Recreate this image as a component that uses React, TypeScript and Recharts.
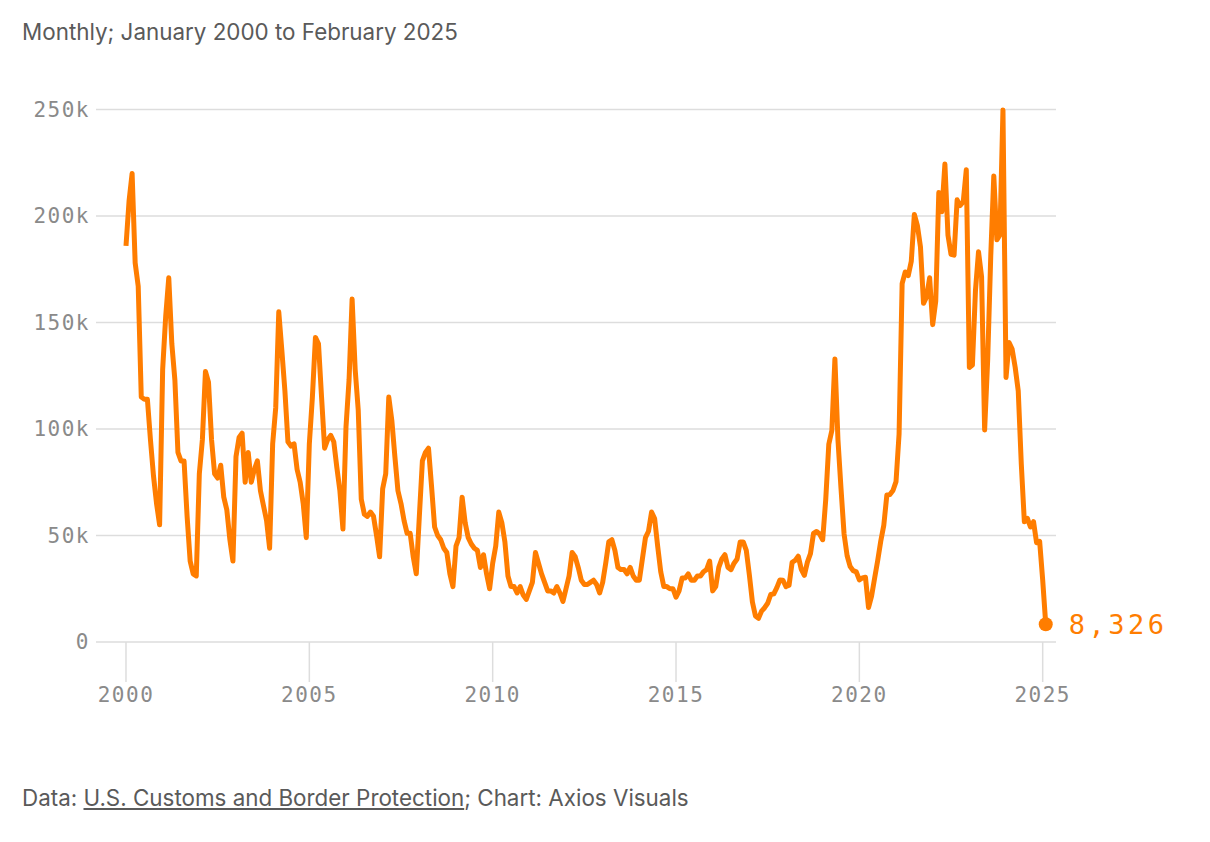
import { CartesianGrid, Line, LineChart, XAxis, YAxis } from "recharts";

// U.S. Border Patrol southwest border apprehensions, monthly, Jan 2000 – Feb 2025
const START_YEAR = 2000;

const apprehensions2000to2004 = [
  186000, 207000, 220000, 178000, 167000, 115000, 114000, 114000, 95000, 78000, 65000, 55000,
  128000, 153000, 171000, 140000, 123000, 89000, 85000, 85000, 59000, 38000, 32000, 31000,
  79000, 95000, 127000, 122000, 95000, 79000, 77000, 83000, 68000, 62000, 48000, 38000,
  87000, 96000, 98000, 75000, 89000, 75000, 81000, 85000, 71000, 64000, 57000, 44000,
  93000, 110000, 155000, 137000, 118000, 94000, 92000, 93000, 81000, 75000, 65000, 49000,
];

const apprehensions2005to2009 = [
  93000, 115000, 143000, 140000, 115000, 91000, 95000, 97000, 94000, 82000, 71000, 53000,
  101000, 123000, 161000, 128000, 109000, 67000, 60000, 59000, 61000, 59000, 50000, 40000,
  72000, 79000, 115000, 104000, 87000, 71000, 65000, 57000, 51000, 51000, 40000, 32000,
  59000, 85000, 89000, 91000, 73000, 54000, 50000, 48000, 44000, 42000, 32000, 26000,
  45000, 49000, 68000, 56000, 49000, 46000, 44000, 43000, 35000, 41000, 32000, 25000,
];

const apprehensions2010to2014 = [
  37000, 45000, 61000, 56000, 47000, 31000, 26000, 26000, 23000, 26000, 22000, 20000,
  24000, 28000, 42000, 37000, 32000, 28000, 24000, 24000, 23000, 26000, 23000, 19000,
  25000, 31000, 42000, 40000, 35000, 29000, 27000, 27000, 28000, 29000, 27000, 23000,
  28000, 37000, 47000, 48000, 43000, 35000, 34000, 34000, 32000, 35000, 31000, 29000,
  29000, 39000, 49000, 52000, 61000, 58000, 45000, 33000, 26000, 26000, 25000, 25000,
];

const apprehensions2015to2019 = [
  21000, 24000, 30000, 30000, 32000, 29000, 29000, 31000, 31000, 33000, 34000, 38000,
  24000, 26000, 35000, 39000, 41000, 35000, 34000, 37000, 39000, 47000, 47000, 43000,
  31600, 18800, 12200, 11100, 14500, 16100, 18200, 22300, 22600, 25500, 29100, 29000,
  26000, 26700, 37400, 38300, 40300, 34100, 31300, 37500, 41500, 51000, 51900, 50700,
  48000, 66900, 92800, 99300, 132900, 94900, 72000, 50700, 40500, 35400, 33500, 32900,
];

const apprehensions2020to2025 = [
  29200, 30100, 30400, 16200, 21600, 30000, 38200, 47300, 54800, 69000, 69200, 71100,
  75300, 97600, 168200, 173700, 172000, 178800, 200700, 195500, 185500, 159000, 162000, 171000,
  149000, 160000, 211000, 202000, 224400, 191000, 182000, 181600, 207600, 204900, 206700, 221700,
  128900, 130000, 165000, 183200, 171400, 99500, 132600, 181100, 218800, 188800, 191100, 249800,
  124200, 140600, 137500, 128900, 117900, 83500, 56400, 58000, 54000, 56500, 46600, 47300,
  29100, 8326,
];

const X_TICKS = [2000, 2005, 2010, 2015, 2020, 2025];
const Y_TICKS = [0, 50000, 100000, 150000, 200000, 250000];

const TITLE = "Monthly; January 2000 to February 2025";
const SOURCE_LINK = "U.S. Customs and Border Protection";

const ORANGE = "#ff7d00";
const GRID = "#dddddd";
const TICK_GRAY = "#8a8a8a";
const TEXT_GRAY = "#5a5a5a";
const MONO = "'DejaVu Sans Mono', 'Liberation Mono', monospace";
const SANS = "Inter, 'Noto Sans', sans-serif";

const values = [
  ...apprehensions2000to2004,
  ...apprehensions2005to2009,
  ...apprehensions2010to2014,
  ...apprehensions2015to2019,
  ...apprehensions2020to2025,
];

const data = values.map((value, i) => ({ t: START_YEAR + i / 12, value }));
const LAST_INDEX = data.length - 1;

const formatY = (v: number) => (v === 0 ? "0" : `${v / 1000}k`);

const renderEndDot = (props: any) => {
  const { cx, cy, index } = props;
  if (index !== LAST_INDEX) return <g key={`dot-${index}`} />;
  return (
    <g key="end-dot">
      <circle cx={cx} cy={cy} r={7} fill={ORANGE} />
      <text
        x={cx + 23}
        y={cy + 10}
        fill={ORANGE}
        fontFamily={MONO}
        fontSize={27}
        letterSpacing={3.5}
      >
        {values[LAST_INDEX].toLocaleString("en-US")}
      </text>
    </g>
  );
};

export default function App() {
  const tickStyle = { fill: TICK_GRAY, fontFamily: MONO, fontSize: 21, letterSpacing: 1.5 };

  return (
    <div
      style={{
        position: "absolute",
        left: 0,
        top: 0,
        width: 1210,
        height: 842,
        background: "#fff",
        overflow: "hidden",
      }}
    >
      <div
        style={{
          position: "absolute",
          left: 22,
          top: 21,
          fontFamily: SANS,
          fontSize: 22.4,
          lineHeight: "22px",
          color: TEXT_GRAY,
          whiteSpace: "nowrap",
        }}
      >
        {TITLE}
      </div>

      <div style={{ position: "absolute", left: 0, top: 0 }}>
        <LineChart
          width={1210}
          height={842}
          data={data}
          margin={{ top: 109.5, right: 154, bottom: 140, left: 16 }}
        >
          <CartesianGrid vertical={false} stroke={GRID} strokeWidth={1.5} />
          <XAxis
            type="number"
            dataKey="t"
            domain={[1999.182, 2025.363]}
            ticks={X_TICKS}
            interval={0}
            axisLine={false}
            tickSize={40}
            tickLine={{ stroke: GRID, strokeWidth: 1.5 }}
            tickMargin={5}
            height={60}
            tick={tickStyle}
          />
          <YAxis
            type="number"
            domain={[0, 250000]}
            ticks={Y_TICKS}
            interval={0}
            width={80}
            axisLine={false}
            tickLine={false}
            tickSize={0}
            tickMargin={6}
            tickFormatter={formatY}
            tick={tickStyle}
          />
          <Line
            dataKey="value"
            type="linear"
            stroke={ORANGE}
            strokeWidth={5}
            strokeLinejoin="round"
            dot={renderEndDot}
            activeDot={false}
            isAnimationActive={false}
          />
        </LineChart>
      </div>

      <div
        style={{
          position: "absolute",
          left: 22,
          top: 787,
          fontFamily: SANS,
          fontSize: 22.4,
          lineHeight: "22px",
          color: TEXT_GRAY,
          whiteSpace: "nowrap",
        }}
      >
        Data: <span style={{ textDecoration: "underline" }}>{SOURCE_LINK}</span>; Chart: Axios Visuals
      </div>
    </div>
  );
}
